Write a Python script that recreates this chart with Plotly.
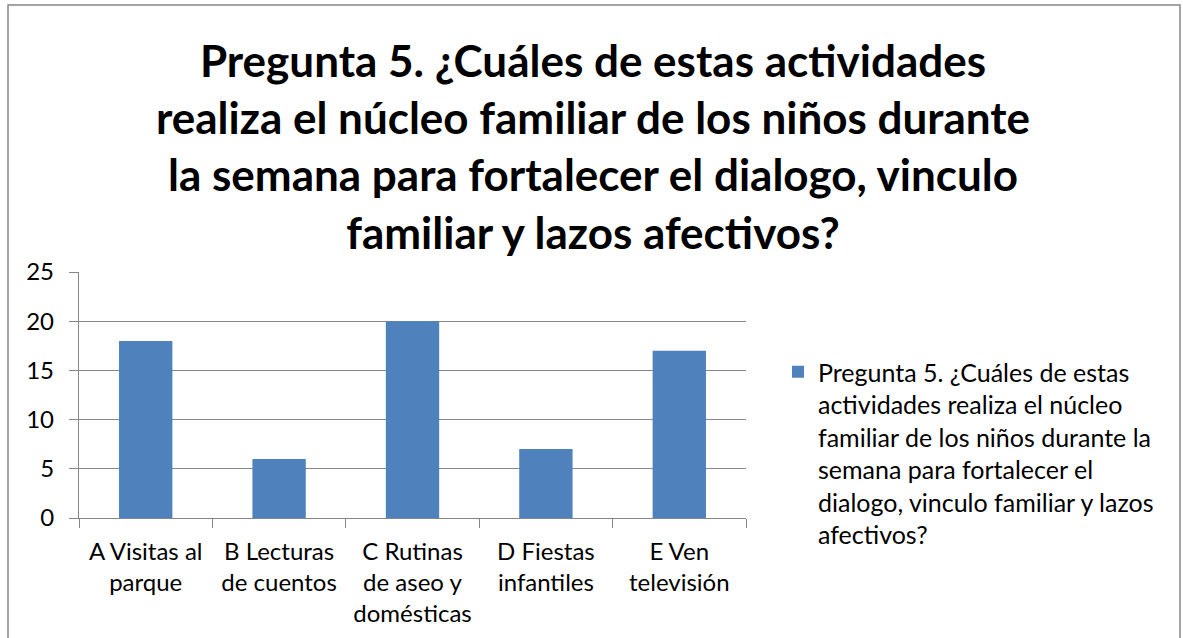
import plotly.graph_objects as go

categories = ["A Visitas al<br>parque", "B Lecturas<br>de cuentos", "C Rutinas<br>de aseo y<br>domésticas",
              "D Fiestas<br>infantiles", "E Ven<br>televisión"]
values = [18, 6, 20, 7, 17]
series_name = ("Pregunta 5. ¿Cuáles de estas<br>actividades realiza el núcleo<br>familiar de los niños durante la<br>"
               "semana para fortalecer el<br>dialogo, vinculo familiar y lazos<br>afectivos?")
title_text = ("Pregunta 5. ¿Cuáles de estas actividades<br>realiza el núcleo familiar de los niños durante<br>"
              "la semana para fortalecer el dialogo, vinculo<br>familiar y lazos afectivos?")

FONT = "Lato, Calibri, Carlito, sans-serif"
GRID = "#868686"

fig = go.Figure(go.Bar(x=categories, y=values, name=series_name, marker_color="#4F81BD",
                       marker_line_width=0, showlegend=True))

L, R, T, B = 79, 437, 272, 120
pw, ph = 1183 - L - R, 638 - T - B

def px_x(x):
    return (x - L) / pw

def px_y(y):
    return (638 - B - y) / ph

fig.update_layout(
    width=1183, height=638,
    margin=dict(l=L, r=R, t=T, b=B, autoexpand=False),
    paper_bgcolor="white", plot_bgcolor="white",
    font=dict(family=FONT, color="black", size=24),
    bargap=0.6,
    title=dict(text="<b>" + title_text + "</b>", x=593 / 1183, xanchor="center",
               y=1 - 77 / 638, yanchor="top", yref="container",
               font=dict(family=FONT, size=44, color="black")),
    legend=dict(x=px_x(778), y=px_y(349), xanchor="left", yanchor="top", valign="top",
                font=dict(family=FONT, size=25), bgcolor="rgba(0,0,0,0)", itemwidth=30),
    xaxis=dict(showline=True, linecolor=GRID, linewidth=1.3, ticks="outside", tickson="boundaries",
               ticklen=9, tickcolor=GRID, tickwidth=1.3, showgrid=False, ticklabelstandoff=12,
               tickfont=dict(family=FONT, size=24)),
    yaxis=dict(range=[0, 25], dtick=5, showline=True, linecolor=GRID, linewidth=1.3,
               ticks="outside", ticklen=9, tickcolor=GRID, tickwidth=1.3, ticklabelstandoff=10,
               showgrid=True, gridcolor=GRID, gridwidth=1.3, zeroline=False,
               tickfont=dict(family=FONT, size=24)),
    shapes=[dict(type="rect", xref="paper", yref="paper",
                 x0=px_x(8), x1=px_x(1180), y0=px_y(660), y1=px_y(5),
                 line=dict(color=GRID, width=1.5), fillcolor="rgba(0,0,0,0)", layer="below")],
)

fig.write_html("out.html", config={"displayModeBar": False},
               post_script="document.body.style.margin='0';")
